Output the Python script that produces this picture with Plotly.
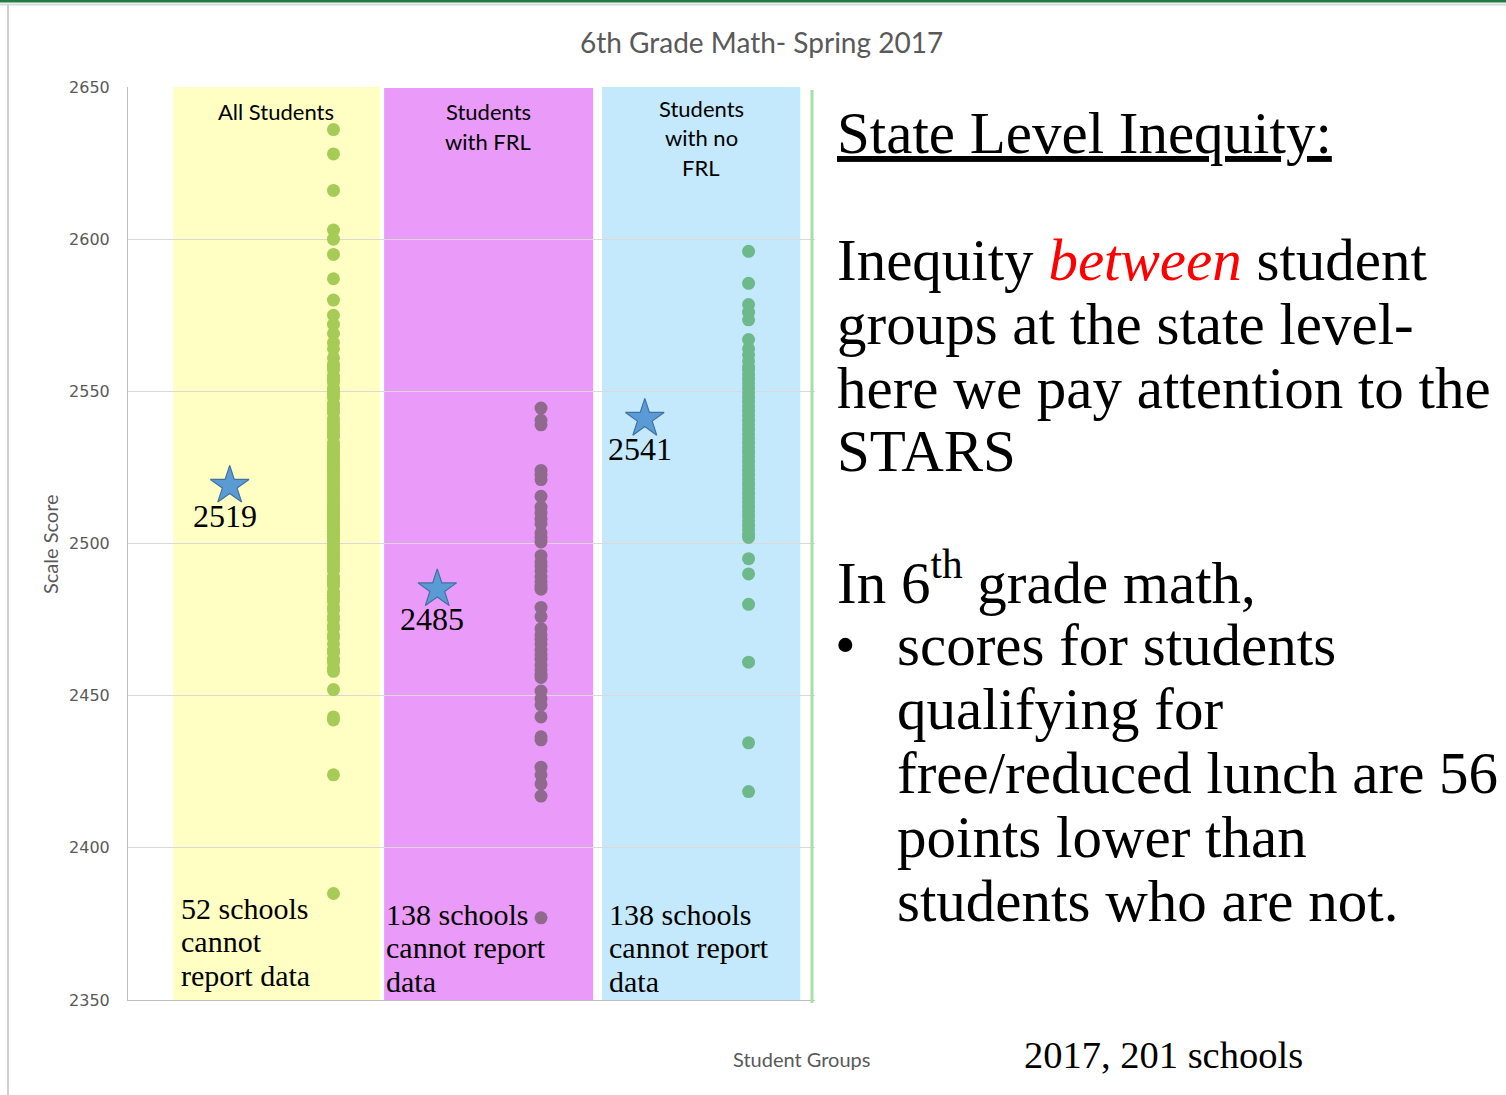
import plotly.graph_objects as go

# ---------------- data ----------------
groups = ["All Students", "Students with FRL", "Students with no FRL"]
group_labels = [["All Students"], ["Students", "with FRL"], ["Students", "with no", "FRL"]]
state_means = [2519, 2485, 2541]
missing_notes = [["52 schools", "cannot", "report data"],
                 ["138 schools", "cannot report", "data"],
                 ["138 schools", "cannot report", "data"]]

all_students = [2636, 2628, 2616, 2603, 2600, 2595, 2587, 2580, 2575, 2572, 2569, 2566, 2564,
                2561, 2559, 2558, 2557, 2555, 2554, 2553, 2551, 2550, 2549, 2548, 2546, 2545,
                2544, 2543, 2541, 2540, 2539, 2538, 2537, 2536, 2535, 2533, 2532, 2531, 2530,
                2529, 2528, 2527, 2526, 2525, 2524, 2523, 2522, 2521, 2520, 2519, 2518, 2517,
                2516, 2515, 2514, 2513, 2512, 2511, 2510, 2509, 2508, 2507, 2506, 2505, 2504,
                2503, 2502, 2501, 2500, 2499, 2498, 2497, 2496, 2495, 2494, 2493, 2492, 2491,
                2489, 2488, 2487, 2486, 2484, 2483, 2482, 2481, 2479, 2478, 2476, 2475, 2473,
                2472, 2470, 2469, 2467, 2465, 2464, 2462, 2461, 2459, 2458, 2452, 2443, 2442,
                2424, 2385]
with_frl = [2544.5, 2540.5, 2539, 2524, 2522.5, 2521, 2515.5, 2512, 2510, 2508, 2506.5, 2503.5,
            2502, 2500.5, 2496, 2494, 2492.5, 2491, 2489, 2487.5, 2486, 2485, 2479, 2476, 2472,
            2470, 2468.5, 2467, 2465, 2463.5, 2462, 2460, 2458.5, 2457, 2456, 2451.5, 2449, 2447,
            2443, 2436.5, 2435.5, 2426.5, 2424, 2421, 2417, 2377]
no_frl = [2596, 2585.5, 2578.5, 2576, 2573.5, 2567, 2564, 2562, 2560, 2558, 2557, 2555.5, 2554,
          2552.5, 2551, 2549.5, 2548, 2546.5, 2545, 2543.5, 2542, 2540.5, 2539, 2537.5, 2536,
          2534.5, 2533, 2531.5, 2530, 2528.5, 2527, 2525.5, 2524, 2522.5, 2521, 2519.5, 2518,
          2516.5, 2515, 2513.5, 2512, 2510.5, 2509, 2507.5, 2506, 2504.5, 2503, 2502, 2495, 2490,
          2480, 2461, 2434.5, 2418.5]
school_scores = [all_students, with_frl, no_frl]

# ---------------- styles ----------------
band_colors = ["#FFFFC4", "#EA9BFA", "#C4E9FC"]
dot_colors = ["#A6CB56", "#906A8E", "#6DB98C"]
GRAY = "#595959"
SERIF = "Liberation Serif, Times New Roman, serif"
SANS = "Lato, Open Sans, sans-serif"

W, H = 1506, 1095
L, R, T, B = 128, 1475, 87, 1000   # plot area in screenshot pixels


def px(x):
    return (x - L) / (R - L)


def py(y):
    return (B - y) / (B - T)


fig = go.Figure()

# school dots (offset half a step right of each group's star)
for i, vals in enumerate(school_scores):
    fig.add_trace(go.Scatter(
        x=[i + 1.5] * len(vals), y=vals, mode="markers",
        marker=dict(size=13, color=dot_colors[i], line=dict(width=0)),
        showlegend=False, hoverinfo="y"))

# state-level stars
fig.add_trace(go.Scatter(
    x=[i + 1 for i in range(len(groups))], y=state_means, mode="markers",
    marker=dict(symbol="star", size=29, color="#5B9BD5", line=dict(color="#41719C", width=1.2)),
    showlegend=False, hoverinfo="y"))

shapes = []
band_x = [(0.727, 1.724, 2650, 2350), (1.744, 2.751, 2649.7, 2348.7), (2.794, 3.749, 2650.8, 2350)]
for (x0, x1, y1, y0), c in zip(band_x, band_colors):
    shapes.append(dict(type="rect", xref="x", yref="y", x0=x0, x1=x1, y0=y0, y1=y1,
                       fillcolor=c, line=dict(width=0), layer="below"))
# white text box covering the right side of the chart
shapes.append(dict(type="rect", xref="paper", yref="paper", x0=px(815), x1=px(1506),
                   y0=py(1095), y1=py(89), fillcolor="white", line=dict(width=0), layer="above"))
# green divider
shapes.append(dict(type="line", xref="paper", yref="paper", x0=px(812), x1=px(812),
                   y0=py(1003), y1=py(90), line=dict(color="#A8DFA8", width=3), layer="above"))
# slide borders
shapes.append(dict(type="line", xref="paper", yref="paper", x0=px(0), x1=px(1506),
                   y0=py(1), y1=py(1), line=dict(color="#1E7B45", width=3), layer="above"))
shapes.append(dict(type="line", xref="paper", yref="paper", x0=px(0), x1=px(1506),
                   y0=py(4.5), y1=py(4.5), line=dict(color="#D9D9D9", width=2), layer="above"))
shapes.append(dict(type="line", xref="paper", yref="paper", x0=px(8), x1=px(8),
                   y0=py(1095), y1=py(5), line=dict(color="#D0D0D0", width=2), layer="above"))

ann = []


def text(x, y, s, size, family=SERIF, color="black", xanchor="left", **kw):
    ann.append(dict(x=px(x), y=py(y), xref="paper", yref="paper", text=s, showarrow=False,
                    xanchor=xanchor, yanchor="middle", font=dict(size=size, family=family, color=color), **kw))


# chart title, axis titles
text(761, 42, "6th Grade Math- Spring 2017", 28, SANS, GRAY, xanchor="center")
text(50, 544, "Scale Score", 20, SANS, GRAY, xanchor="center", textangle=-90)
text(802, 1059, "Student Groups", 20, SANS, GRAY, xanchor="center")

# group labels inside bands
label_cx = [276, 488, 701]
label_top = [111, 112, 108]
for cx, top, lines in zip(label_cx, label_top, group_labels):
    for k, line in enumerate(lines):
        text(cx, top + k * 29.5, line, 22, SANS, "black", xanchor="center")

# missing-data notes
note_x = [179, 384, 607]
note_y = [908, 914, 914]
for nx, ny, lines in zip(note_x, note_y, missing_notes):
    for k, line in enumerate(lines):
        text(nx, ny + k * 33.5, line, 30, SERIF)

# star value labels
for i, v in enumerate(state_means):
    ann.append(dict(x=i + 1, y=v, xref="x", yref="y", text=str(v), showarrow=False,
                    xanchor="center", yanchor="middle", yshift=-30, xshift=-5,
                    font=dict(size=32, family=SERIF, color="black")))

# right-hand commentary
RS = 59
text(835, 133, "<u>State Level Inequity:</u>", RS)
text(835, 260, "Inequity <i><span style='color:#FF0000'>between</span></i> student", RS)
text(835, 324, "groups at the state level-", RS)
text(835, 388, "here we pay attention to the", RS)
text(835, 451, "STARS", RS)
text(835, 578, "In 6<sup>th</sup> grade math,", RS)
text(833, 645, "•", RS)
bullet = ["scores for students", "qualifying for", "free/reduced lunch are 56",
          "points lower than", "students who are not."]
for k, line in enumerate(bullet):
    text(895, 645 + k * 64, line, RS)
text(1022, 1055, "2017, 201 schools", 38.5)

fig.update_layout(
    width=W, height=H,
    margin=dict(l=L, r=W - R, t=T, b=H - B),
    paper_bgcolor="white", plot_bgcolor="white",
    shapes=shapes, annotations=ann, showlegend=False,
    xaxis=dict(range=[0.51, 7.0], showgrid=False, zeroline=False, showticklabels=False,
               showline=True, linecolor="#BFBFBF", linewidth=1, fixedrange=True),
    yaxis=dict(range=[2350, 2650], dtick=50, showgrid=True, gridcolor="#D9D9D9", gridwidth=1,
               zeroline=False, showline=True, linecolor="#BFBFBF", linewidth=1,
               tickfont=dict(family="DejaVu Sans", size=16, color=GRAY), ticks="",
               ticklabelstandoff=14, fixedrange=True),
)

# remove the default 8px page margin so the figure fills the window exactly
fig.write_html("out.html", config={"displayModeBar": False},
               post_script="document.body.style.margin='0px';")
